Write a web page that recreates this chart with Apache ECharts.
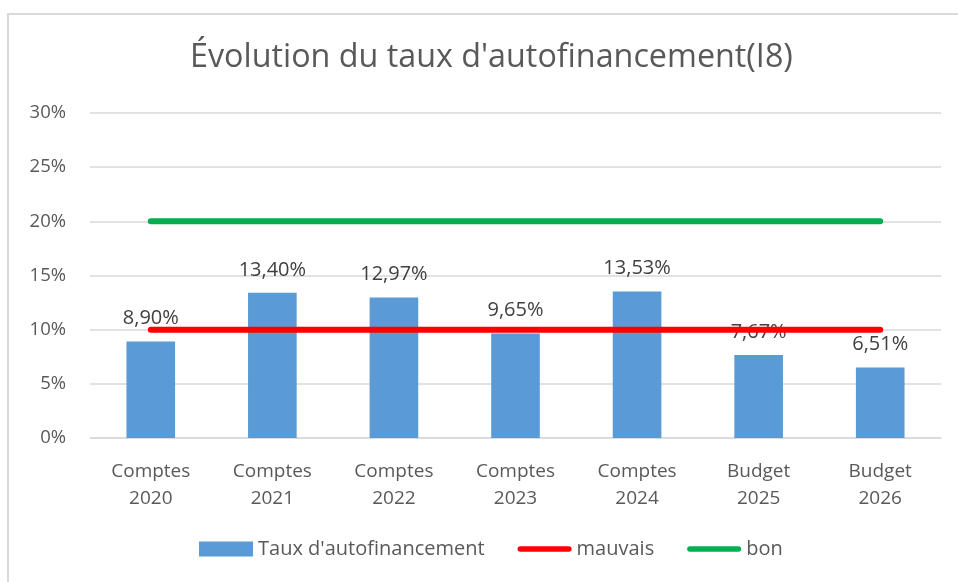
<!DOCTYPE html>
<html><head><meta charset="utf-8">
<script src="https://cdn.jsdelivr.net/npm/echarts@6/dist/echarts.min.js"></script>
<style>html,body{margin:0;padding:0;background:#fff}#c{width:958px;height:582px}</style>
</head><body><div id="c"></div>
<script>
const categories = ["Comptes\n2020","Comptes\n2021","Comptes\n2022","Comptes\n2023","Comptes\n2024","Budget\n2025","Budget\n2026"];
const taux = [8.90, 13.40, 12.97, 9.65, 13.53, 7.67, 6.51];
const mauvais = [10, 10, 10, 10, 10, 10, 10];
const bon = [20, 20, 20, 20, 20, 20, 20];
const yTicks = [0, 5, 10, 15, 20, 25, 30];

const FONT = "'Open Sans', sans-serif";
const LINE_ICON = 'path://M3,0 L57,0 A3,3 0 0 1 57,6 L3,6 A3,3 0 0 1 3,0 Z';
const chart = echarts.init(document.getElementById('c'), null, {renderer: 'canvas'});
chart.setOption({
  animation: false,
  textStyle: {fontFamily: FONT},
  graphic: [{type: 'rect', shape: {x: 8, y: 14, width: 970, height: 600}, style: {fill: 'none', stroke: '#d9d9d9', lineWidth: 2}, z: -1}],
  title: {text: "Évolution du taux d'autofinancement(I8)", left: 185, top: 37,
    textStyle: {fontFamily: FONT, fontSize: 32.3, fontWeight: 'normal', color: '#595959'}},
  grid: {left: 90, right: 17, top: 113, bottom: 144},
  legend: {bottom: 18, left: 194, itemGap: 33, itemWidth: 54, itemHeight: 15,
    textStyle: {fontFamily: FONT, fontSize: 20, color: '#595959'},
    data: [{name: "Taux d'autofinancement", icon: 'rect'}, {name: 'mauvais', icon: LINE_ICON}, {name: 'bon', icon: LINE_ICON}]},
  xAxis: {type: 'category', data: categories, boundaryGap: true,
    axisLine: {lineStyle: {color: '#d9d9d9', width: 1.5}}, axisTick: {show: false},
    axisLabel: {fontFamily: FONT, fontSize: 19, color: '#595959', lineHeight: 27, margin: 20}},
  yAxis: {type: 'value', min: yTicks[0], max: yTicks[yTicks.length-1], interval: 5,
    axisLine: {show: false}, axisTick: {show: false},
    splitLine: {lineStyle: {color: '#d9d9d9', width: 1.5}},
    axisLabel: {fontFamily: FONT, fontSize: 18.5, color: '#595959', margin: 24, formatter: v => v + '%'}},
  series: [
    {name: "Taux d'autofinancement", type: 'bar', data: taux, barWidth: '40%',
      itemStyle: {color: '#5b9bd5'},
      label: {show: true, position: 'top', distance: 13, fontFamily: FONT, fontSize: 20, color: '#404040',
        formatter: p => p.value.toFixed(2).replace('.', ',') + '%'}, z: 2},
    {name: 'mauvais', type: 'line', data: mauvais, symbol: 'none',
      lineStyle: {color: '#ff0000', width: 6, cap: 'round'}, itemStyle: {color: '#ff0000'}, z: 3},
    {name: 'bon', type: 'line', data: bon, symbol: 'none',
      lineStyle: {color: '#00b050', width: 6, cap: 'round'}, itemStyle: {color: '#00b050'}, z: 3}
  ]
});
</script></body></html>
